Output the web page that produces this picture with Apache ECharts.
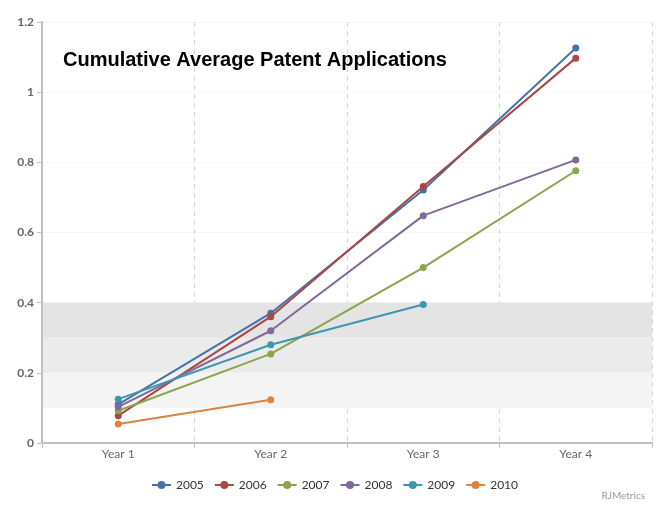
<!DOCTYPE html>
<html><head><meta charset="utf-8">
<script src="https://cdn.jsdelivr.net/npm/echarts@6/dist/echarts.min.js"></script>
<style>html,body{margin:0;padding:0;background:#fff}#c{width:669px;height:517px}</style>
</head><body><div id="c"></div>
<script>
const categories = ['Year 1', 'Year 2', 'Year 3', 'Year 4'];
const yTicks = [0, 0.2, 0.4, 0.6, 0.8, 1, 1.2];
const s2005 = [0.11, 0.370, 0.721, 1.126];
const s2006 = [0.078, 0.360, 0.731, 1.097];
const s2007 = [0.092, 0.254, 0.500, 0.776];
const s2008 = [0.103, 0.320, 0.648, 0.807];
const s2009 = [0.125, 0.280, 0.395];
const s2010 = [0.054, 0.123];
const seriesNames = ['2005', '2006', '2007', '2008', '2009', '2010'];
const seriesData = [s2005, s2006, s2007, s2008, s2009, s2010];
const colors = ['#4572A7', '#AA4643', '#89A54E', '#80699B', '#3D96AE', '#DB843D'];
const bands = [[0.1, 0.2, '#f4f4f4'], [0.2, 0.3, '#ebebeb'], [0.3, 0.4, '#e4e4e4']];

const chart = echarts.init(document.getElementById('c'), null, {renderer: 'canvas'});
const series = seriesNames.map((n, i) => ({
  name: n, type: 'line', data: seriesData[i],
  symbol: 'circle', symbolSize: 7,
  lineStyle: {width: 2, color: colors[i]},
  itemStyle: {color: colors[i]},
  emphasis: {disabled: true},
  z: 3
}));
series[0].markArea = {
  silent: true,
  z: 0,
  data: bands.map(b => [{yAxis: b[0], itemStyle: {color: b[2]}}, {yAxis: b[1]}])
};
chart.setOption({
  animation: false,
  color: colors,
  title: {
    text: 'Cumulative Average Patent Applications',
    left: 58, top: 45,
    textStyle: {fontFamily: 'Liberation Sans, Arial, sans-serif', fontSize: 20, fontWeight: 'bold', color: '#000'}
  },
  grid: {left: 42, right: 17, top: 22, bottom: 74},
  xAxis: {
    type: 'category', data: categories, boundaryGap: true,
    axisLine: {lineStyle: {color: '#c0c0c0', width: 2}},
    axisTick: {show: true, length: 5, lineStyle: {color: '#c0c0c0'}},
    axisLabel: {color: '#666', fontSize: 12, fontFamily: 'Lato, sans-serif', margin: 5},
    splitLine: {show: true, lineStyle: {color: '#d8d8d8', type: [5, 4], width: 1}}
  },
  yAxis: {
    type: 'value', min: 0, max: 1.2, interval: 0.2,
    axisLine: {show: true, lineStyle: {color: '#c0c0c0', width: 2}},
    axisTick: {show: true, length: 5, lineStyle: {color: '#c0c0c0'}},
    axisLabel: {color: '#666', fontSize: 12, fontWeight: 'bold', fontFamily: 'Lato, sans-serif', margin: 8,
      formatter: v => { const t = yTicks.find(x => Math.abs(x - v) < 1e-9); return t === undefined ? '' : String(t); }},
    splitLine: {show: true, lineStyle: {color: '#f6f6f6', width: 1}}
  },
  legend: {
    data: seriesNames, bottom: 21, left: 'center',
    itemWidth: 19, itemHeight: 10, itemGap: 10,
    textStyle: {color: '#333', fontSize: 12, fontFamily: 'Lato, sans-serif'}
  },
  graphic: [{
    type: 'text', right: 24, top: 491,
    style: {text: 'RJMetrics', fill: '#999', fontSize: 10, fontFamily: 'Lato, sans-serif'}
  }],
  series: series
});
</script></body></html>
